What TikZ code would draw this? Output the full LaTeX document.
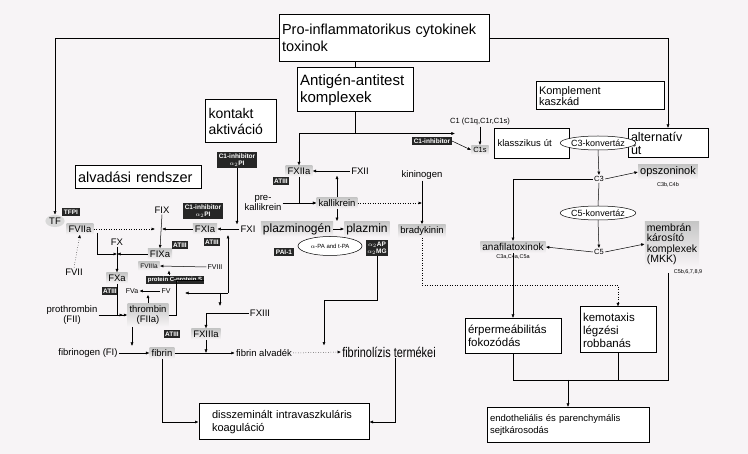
\documentclass[tikz,border=0pt]{standalone}
\usepackage{fontspec}
\setmainfont{Liberation Sans}
\usetikzlibrary{arrows.meta,shapes.geometric}
\definecolor{paper}{RGB}{247,244,246}
\tikzstyle{box}=[draw, line width=1pt, fill=white, align=left, inner sep=3pt]
\tikzstyle{lbl}=[font=\fontsize{9.5}{10.5}\selectfont, align=center, inner sep=1pt]
\tikzstyle{blk}=[fill=black!85, text=white, font=\fontsize{6.5}{7}\selectfont\bfseries, align=center, inner sep=1.5pt]
\tikzstyle{gr}=[lbl, top color=gray!45, bottom color=paper, inner sep=2pt]
\tikzstyle{ell}=[ellipse, draw, fill=white, font=\fontsize{9}{10}\selectfont, inner sep=0pt]
\tikzstyle{sub}=[font=\fontsize{5.5}{6}\selectfont, inner sep=0pt]
\providecommand{\nd}{\node}
\begin{document}
\begin{tikzpicture}[x=1pt, y=-1pt, >={Latex[length=3.5pt,width=3pt]},
    every path/.style={line width=0.5pt}]
\fill[paper] (0,0) rectangle (748,454);
\useasboundingbox (0,0) rectangle (748,454);
% boxes
\nd[box, text width=204pt, minimum height=47pt, font=\fontsize{14.5}{17}\selectfont] (cyto) at (384,38) {Pro-inflammatorikus cytokinek\\toxinok};
\nd[box, text width=110pt, minimum height=44pt, font=\fontsize{15}{17}\selectfont] (ag) at (355,90) {Antigén-antitest\\komplexek};
\nd[box, text width=122pt, minimum height=28pt, font=\fontsize{11}{11}\selectfont] (komp) at (600,96) {Komplement\\kaszkád};
\nd[box, text width=65pt, minimum height=43pt, font=\fontsize{14}{16}\selectfont] (kont) at (241,121) {kontakt\\aktiváció};
\nd[box, text width=120pt, minimum height=23pt, font=\fontsize{14.5}{16}\selectfont] (alv) at (138,177) {alvadási rendszer};
% coagulation
\nd[blk] (c1a) at (237,160) {C1-inhibitor\\$\alpha_2$PI};
\nd[blk] (tfpi) at (71,212) {TFPI};
\nd[lbl, ellipse, fill=gray!30] (tf) at (55,221) {TF};
\nd[gr] (f7a) at (80,229) {FVIIa};
\nd[lbl] (f9) at (162,210) {FIX};
\nd[blk] (c1b) at (203,211) {C1-inhibitor\\$\alpha_2$PI};
\nd[gr] (f11a) at (205,229) {FXIa};
\nd[blk] (at1) at (212,242) {ATIII};
\nd[lbl] (f11) at (248,229) {FXI};
\nd[lbl] (fx) at (117,242) {FX};
\nd[gr] (f9a) at (160,254) {FIXa};
\nd[blk] (at2) at (180,245) {ATIII};
\nd[lbl] (f7) at (74,272) {FVII};
\nd[gr, font=\fontsize{6.5}{7}\selectfont] (f8a) at (149,266) {FVIIIa};
\nd[lbl, font=\fontsize{7}{8}\selectfont] (f8) at (215,267) {FVIII};
\nd[blk, font=\fontsize{6}{7}\selectfont\bfseries] (pcs) at (175,280) {protein C-protein S};
\nd[gr] (fxa) at (117,278) {FXa};
\nd[blk] (at3) at (110,291) {ATIII};
\nd[lbl, font=\fontsize{7}{8}\selectfont] (f5a) at (132,291) {FVa};
\nd[lbl, font=\fontsize{7}{8}\selectfont] (f5) at (166,291) {FV};
\nd[lbl] (f2) at (72,315) {prothrombin\\(FII)};
\nd[gr] (f2a) at (148,315) {thrombin\\(FIIa)};
\nd[lbl] (f13) at (260,313) {FXIII};
\nd[gr] (f13a) at (206,334) {FXIIIa};
\nd[blk] (at4) at (172,334) {ATIII};
\nd[lbl] (f1) at (88,353) {fibrinogen (FI)};
\nd[gr] (fib) at (162,353) {fibrin};
\nd[lbl] (alvadek) at (264,353) {fibrin alvadék};
\nd[font=\fontsize{14}{15}\selectfont, inner sep=1pt] (lizis) at (389,352) {\scalebox{0.78}[1]{fibrinolízis termékei}};
\nd[box, text width=164pt, minimum height=36pt, font=\fontsize{11}{13}\selectfont] (dic) at (284,422) {\hspace*{10pt}disszeminált intravaszkuláris\\\hspace*{10pt}koaguláció};
% contact
\nd[gr] (f12a) at (299,171) {FXIIa};
\nd[blk] (at5) at (281,181) {ATIII};
\nd[lbl] (f12) at (360,171) {FXII};
\nd[lbl] (prek) at (263,203) {pre-\\kallikrein};
\nd[gr] (kal) at (337,203) {kallikrein};
\nd[lbl] (kin) at (422,175) {kininogen};
\nd[gr] (brad) at (422,231) {bradykinin};
\nd[gr, font=\fontsize{12}{13}\selectfont] (plg) at (297,229) {plazminogén};
\nd[gr, font=\fontsize{12}{13}\selectfont] (plm) at (367,229) {plazmin};
\nd[ell, minimum width=64pt, minimum height=19pt, font=\fontsize{6}{7}\selectfont] (tpa) at (330,246) {$\alpha$-PA and t-PA};
\nd[blk] (pai) at (284,252) {PAI-1};
\nd[blk] (a2ap) at (377,248) {$\alpha_2$AP\\$\alpha_2$MG};
% complement
\nd[blk] (c1c) at (432,141) {C1-inhibitor};
\nd[lbl, font=\fontsize{7.5}{8}\selectfont] (c1) at (480,122) {C1 (C1q,C1r,C1s)};
\nd[gr, font=\fontsize{7.5}{8}\selectfont] (c1s) at (480,150) {C1s};
\nd[box, line width=0.7pt, text width=69pt, minimum height=30pt, font=\fontsize{9.5}{11}\selectfont] (klass) at (532,143) {klasszikus út};
\nd[box, text width=74pt, minimum height=29pt, font=\fontsize{12.5}{13}\selectfont] (alt) at (668,143) {alternatív\\út};
\nd[ell, minimum width=56pt, minimum height=14pt] (c3k) at (598,143) {C3-konvertáz};
\nd[lbl, font=\fontsize{7.5}{8}\selectfont] (c3) at (599,179) {C3};
\nd[gr, font=\fontsize{11}{12}\selectfont] (ops) at (668,172) {opszoninok};
\nd[sub] at (668,185) {C3b,C4b};
\nd[ell, minimum width=56pt, minimum height=14pt] (c5k) at (598,213) {C5-konvertáz};
\nd[lbl, font=\fontsize{7.5}{8}\selectfont] (c5) at (599,252) {C5};
\nd[gr, font=\fontsize{10}{11}\selectfont] (ana) at (513,247) {anafilatoxinok};
\nd[sub] at (513,257) {C3a,C4a,C5a};
\nd[gr, align=left, font=\fontsize{10.5}{10.5}\selectfont] (mkk) at (672,244) {membrán\\károsító\\komplexek\\(MKK)};
\nd[sub] at (688,272) {C5b,6,7,8,9};
\nd[box, text width=90pt, minimum height=35pt, font=\fontsize{11.5}{13}\selectfont] (erp) at (513,336) {érpermeábilitás\\fokozódás};
\nd[box, text width=70pt, minimum height=46pt, font=\fontsize{11.5}{13}\selectfont] (kemo) at (618,330) {kemotaxis\\légzési\\robbanás};
\nd[box, text width=156pt, minimum height=35pt, font=\fontsize{9.5}{11.5}\selectfont] (endo) at (568,425) {endotheliális és parenchymális\\sejtkárosodás};
% connectors
\draw[->] (cyto.west) -| (tf.north);
\draw[->] (cyto.east) -| (alt.north);
\draw (cyto.south -| ag.north) -- (ag.north);
\draw (ag.south) -- ++(0,21) coordinate (agj);
\draw[->] (agj) -| (f12a.north);
\draw[->] (agj) -- (agj -| c1.west) -- ++(6,0) coordinate (c1j);
\draw[->] (c1c.east) -- (c1s.west);
\draw[->] (c1.south) -- (c1s.north);
\draw[->] (c3k.south) -- (c3.north);
\draw[->] (c3.east) -- (ops.west);
\draw[->] (c3.west) -| (ana.north);
\draw (c3.south) -- (c5k.north);
\draw[->] (c5k.south) -- (c5.north);
\draw[->] (c5.west) -- (ana.east);
\draw[->] (c5.east) -- (mkk.west);
\draw[->] (ana.south) -- (erp.north);
\draw[dotted,->] (brad.south) |- (618,285) -- (kemo.north);
\draw (mkk.south -| 668,0) ++(0,6) -- (668,380) -| (kemo.south);
\draw (erp.south) |- (668,380);
\draw[->] (568,380) -- (endo.north);
% contact
\draw[->] (f12.west) -- (f12a.east);
\draw[->] (f12a.south) |- (kal.west);
\draw[->] (prek.east) -- (kal.west);
\draw[->] (kal.north) -- (kal.north |- f12.south);
\draw[dotted,->] (kal.east) -- (kal.east -| brad.north);
\draw[->] (kin.south) -- (brad.north);
\draw[->] (kal.south) -- (kal.south |- plm.north);
\draw[->] (plg.east) -- (plm.west);
\draw[->] (a2ap.south) |- (324,300) -- (lizis.north -| 324,0);
% coagulation
\draw[->] (c1a.south) -- (c1a.south |- f11.north);
\draw[->] (f11.west) -- (f11a.east);
\draw[->] (f11a.west) -- (f9.south |- f11a.west);
\draw[->] (f9.south) -- (f9a.north);
\draw[dotted,->] (f7a.east) -- (155,229);
\draw[->] (97,233) |- (fx.south |- f9a);
\draw[->] (f9a.west) -- (fx.south |- f9a);
\draw[->] (fx.south) -- (fxa.north);
\draw[dotted,->] (f7.north) -- (f7a.south);
\draw[->] (f8.west) -- (f8a.east);
\draw[->] (f5.west) -- (f5a.east);
\draw[->] (pcs.north) ++(-6,0) -- ++(0,-5);
\draw[->] (f2a.north) -- (f2a.north |- f5.south);
\draw[->] (fxa.south) -- (fxa.south |- f2a.west) -- ++(6,0);
\draw[->] (f2.east) -- (f2a.west);
\draw (f2a.east) -- ++(8,0) |- (pcs.east);
\draw[->] (228,293) |- (185,293);
\draw[->] (228,293) -- (228,235);
\draw[->] (220,293) -- (220,306);
\draw[->] (f13.west) -| (f13a.north);
\draw[->] (f2a.south) ++(-16,0) -- (132,346);
\draw[->] (f1.east) -- (fib.west);
\draw[->] (fib.east) -- (alvadek.west);
\draw[->] (f13a.south) -- (206,353);
\draw[dotted,->] (alvadek.east) -- (lizis.west);
\draw[->] (fib.south) |- (dic.west);
\draw[->] (lizis.south) ++(6,0) |- (dic.east);
\end{tikzpicture}
\end{document}
